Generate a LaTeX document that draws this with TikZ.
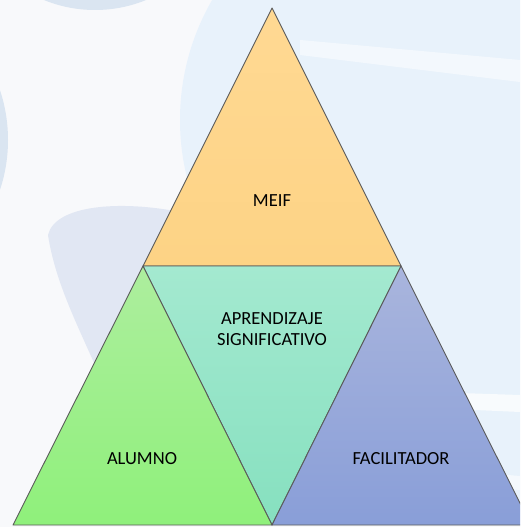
\documentclass[tikz,border=0pt]{standalone}
\usepackage{fontspec}
\setmainfont{Carlito}
\definecolor{bgbase}{HTML}{F8F9FB}
\definecolor{bgblue}{HTML}{E8F2FB}
\definecolor{bgblueB}{HTML}{DAE5F1}
\definecolor{bglav}{HTML}{E1E7F3}
\definecolor{orgT}{HTML}{FFD993}
\definecolor{orgB}{HTML}{FDD385}
\definecolor{grnT}{HTML}{ADEE9E}
\definecolor{grnB}{HTML}{8FF07B}
\definecolor{tealT}{HTML}{A4E9D0}
\definecolor{tealB}{HTML}{86E0BF}
\definecolor{bluT}{HTML}{A9B5DD}
\definecolor{bluB}{HTML}{899ED8}
\definecolor{edge}{HTML}{5A5A5A}
\tikzset{
  tri/.style={draw=edge, line width=0.9pt, line join=round},
  lbl/.style={font=\fontsize{18.5}{20.5}\selectfont, align=center, text=black, inner sep=0pt}
}
\begin{document}
\begin{tikzpicture}[x=1pt,y=-1pt]
\useasboundingbox (0,0) rectangle (520,527);
\begin{scope}
\clip (0,0) rectangle (520,527);
% background
\fill[bgbase] (0,0) rectangle (520,527);
\fill[bgblue] (420,120) circle (240);
\fill[bgblue] (380,240) -- (520,240) -- (520,527) -- (531,527) -- cycle;
\fill[bgblueB] (-150,140) circle (158);
\fill[bgblueB] (95,-125) circle (135);
\fill[bglav] (48,235) .. controls (55,205) and (120,200) .. (180,212)
   .. controls (240,225) and (270,260) .. (270,300)
   -- (200,420) .. controls (150,410) and (105,390) .. (95,365)
   .. controls (75,320) and (55,280) .. (48,235) -- cycle;
\fill[white, opacity=0.5] (300,40) -- (520,60) -- (520,82) -- (300,55) -- cycle;
\fill[white, opacity=0.7] (430,392) -- (520,395) -- (520,412) -- (430,408) -- cycle;
\fill[white, opacity=0.6] (470,472) -- (520,476) -- (520,490) -- (470,486) -- cycle;
% triangles
\coordinate (A) at (272,8);
\coordinate (L) at (143,266);
\coordinate (R) at (401,266);
\coordinate (BL) at (13,525);
\coordinate (BM) at (272,525);
\coordinate (BR) at (531,525);
\shade[tri, top color=orgT, bottom color=orgB] (A) -- (R) -- (L) -- cycle;
\shade[tri, top color=tealT, bottom color=tealB] (L) -- (R) -- (BM) -- cycle;
\shade[tri, top color=grnT, bottom color=grnB] (L) -- (BM) -- (BL) -- cycle;
\shade[tri, top color=bluT, bottom color=bluB] (R) -- (BR) -- (BM) -- cycle;
\end{scope}
\node[lbl] (meif) at (272,201) {MEIF};
\node[lbl] (apr) at (272,329) {APRENDIZAJE\\SIGNIFICATIVO};
\node[lbl] (alu) at (142,459) {ALUMNO};
\node[lbl] (fac) at (401,459) {FACILITADOR};
\end{tikzpicture}
\end{document}
